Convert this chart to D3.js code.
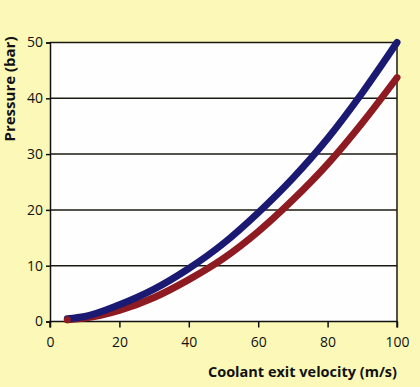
<!DOCTYPE html>
<html>
<head>
<meta charset="utf-8">
<script src="https://cdn.jsdelivr.net/npm/d3@7"></script>
<style>
html,body{margin:0;padding:0;background:#fcf9b8;}
svg{display:block;}
text{font-family:"Open Sans","DejaVu Sans",sans-serif;fill:#111;}
</style>
</head>
<body>
<svg id="chart" width="420" height="387"></svg>
<script>
const velocity = [5, 10, 20, 30, 40, 50, 60, 70, 80, 90, 100];
const bluePressure = [0.5, 0.9, 3.0, 5.8, 9.5, 14.0, 19.5, 25.7, 32.8, 41.0, 50.0];
const redPressure = [0.3, 0.6, 2.0, 4.3, 7.5, 11.3, 16.1, 21.8, 28.2, 35.6, 43.7];
const xTicks = [0, 20, 40, 60, 80, 100];
const yTicks = [0, 10, 20, 30, 40, 50];
const xTitle = "Coolant exit velocity (m/s)";
const yTitle = "Pressure (bar)";

const svg = d3.select("#chart");
const L = 50, R = 397, T = 42.5, B = 321.5;
const x = d3.scaleLinear().domain([0, 100]).range([L, R]);
const y = d3.scaleLinear().domain([0, 50]).range([B, T]);

svg.append("rect").attr("x", L).attr("y", T).attr("width", R - L).attr("height", B - T).attr("fill", "#fefefe");

// gridlines
svg.append("g").selectAll("line").data(yTicks.filter(d => d > 0)).join("line")
  .attr("x1", L).attr("x2", R).attr("y1", d => y(d)).attr("y2", d => y(d))
  .attr("stroke", "#1a1a10").attr("stroke-width", 1.5);

// right border
svg.append("line").attr("x1", R).attr("x2", R).attr("y1", T).attr("y2", B)
  .attr("stroke", "#1a1a10").attr("stroke-width", 1.5);

const yAxis = svg.append("g").attr("transform", `translate(${L},0)`)
  .call(d3.axisLeft(y).tickValues(yTicks).tickSize(4).tickPadding(3));
const xAxis = svg.append("g").attr("transform", `translate(0,${B})`)
  .call(d3.axisBottom(x).tickValues(xTicks).tickSize(6).tickPadding(10));
[xAxis, yAxis].forEach(a => {
  a.select(".domain").attr("stroke", "#111").attr("stroke-width", 1.5);
  a.selectAll(".tick line").attr("stroke", "#111").attr("stroke-width", 1.5);
  a.selectAll("text").attr("font-size", 14).attr("fill", "#111")
    .attr("font-family", "'Open Sans','DejaVu Sans',sans-serif");
});
xAxis.select(".domain").attr("d", `M${L},6V0H${R}V6`);

const line = d3.line().x(d => x(d[0])).y(d => y(d[1])).curve(d3.curveMonotoneX);
svg.append("path").datum(velocity.map((v, i) => [v, redPressure[i]]))
  .attr("d", line).attr("fill", "none").attr("stroke", "#8e1b22")
  .attr("stroke-width", 7).attr("stroke-linecap", "round");
svg.append("path").datum(velocity.map((v, i) => [v, bluePressure[i]]))
  .attr("d", line).attr("fill", "none").attr("stroke", "#1b1a72")
  .attr("stroke-width", 7).attr("stroke-linecap", "round");
svg.append("circle").attr("cx", x(velocity[0])).attr("cy", y(redPressure[0])).attr("r", 3.5).attr("fill", "#8e1b22");

svg.append("text").attr("x", 397).attr("y", 377).attr("text-anchor", "end")
  .attr("font-size", 14.5).attr("font-weight", "bold").text(xTitle);
svg.append("text").attr("transform", "translate(15,89) rotate(-90)").attr("text-anchor", "middle")
  .attr("font-size", 15).attr("font-weight", "bold").text(yTitle);
</script>
</body>
</html>
